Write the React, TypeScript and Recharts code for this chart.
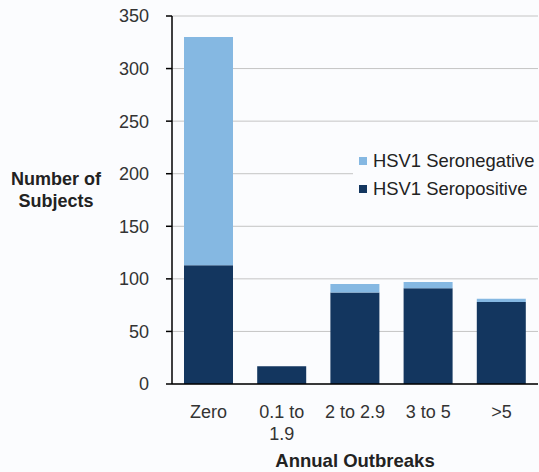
import React from "react";
import { BarChart, Bar, XAxis, YAxis, CartesianGrid, Legend, Label } from "recharts";

const categories = ["Zero", "0.1 to 1.9", "2 to 2.9", "3 to 5", ">5"];
const seropositive = [113, 17, 87, 91, 78];
const seronegative = [217, 0, 8, 6, 3];
const yTicks = [0, 50, 100, 150, 200, 250, 300, 350];

const DARK = "#13365f";
const LIGHT = "#85b8e2";
const FONT = "'Liberation Sans', Arial, Helvetica, sans-serif";
const MAX_CHARS = 8;

const data = categories.map((c, i) => ({
  name: c,
  pos: seropositive[i],
  neg: seronegative[i],
}));

function wrapLabel(s: string): string[] {
  const words = s.split(" ");
  const lines: string[] = [];
  let cur = "";
  for (const w of words) {
    const next = cur ? cur + " " + w : w;
    if (next.length > MAX_CHARS && cur) {
      lines.push(cur);
      cur = w;
    } else {
      cur = next;
    }
  }
  if (cur) lines.push(cur);
  return lines;
}

const XTick = (props: any) => {
  const { x, y, payload } = props;
  const lines = wrapLabel(String(payload.value));
  return (
    <text x={x} y={y + 32} textAnchor="middle" fontSize={18} fill="#333" fontFamily={FONT}>
      {lines.map((l, i) => (
        <tspan key={i} x={x} dy={i === 0 ? 0 : 22}>
          {l}
        </tspan>
      ))}
    </text>
  );
};

const YLabel = () => {
  return (
    <text x={56} y={185} textAnchor="middle" fontSize={18} fontWeight="bold" fill="#222" fontFamily={FONT}>
      <tspan x={56}>Number of</tspan>
      <tspan x={56} dy={22}>Subjects</tspan>
    </text>
  );
};

const XLabel = (props: any) => {
  const vb = props.viewBox || {};
  return (
    <text x={vb.x + vb.width / 2} y={vb.y + 83} textAnchor="middle" fontSize={18.5} fontWeight="bold" fill="#222" fontFamily={FONT}>
      Annual Outbreaks
    </text>
  );
};

const LegendContent = () => {
  const items = [
    { label: "HSV1 Seronegative", color: LIGHT },
    { label: "HSV1 Seropositive", color: DARK },
  ];
  return (
    <div style={{ background: "#fbfcfe", paddingLeft: 6 }}>
      {items.map((it) => (
        <div key={it.label} style={{ display: "flex", alignItems: "center", height: 28 }}>
          <span style={{ display: "inline-block", width: 8, height: 8, background: it.color, marginRight: 6 }} />
          <span style={{ fontSize: 18.4, color: "#222", fontFamily: FONT, whiteSpace: "nowrap" }}>{it.label}</span>
        </div>
      ))}
    </div>
  );
};

export default function App() {
  return (
    <div style={{ position: "absolute", left: 0, top: 0, width: 539, height: 472, background: "#fbfcfe" }}>
      <BarChart
        width={539}
        height={472}
        data={data}
        margin={{ top: 16, right: 1, left: 0, bottom: 28 }}
      >
        <CartesianGrid horizontal vertical={false} stroke="#c4c4c4" strokeWidth={1} />
        <XAxis
          dataKey="name"
          height={60}
          tickLine={false}
          tickSize={0}
          axisLine={{ stroke: "#000", strokeWidth: 1.5 }}
          tick={<XTick />}
          interval={0}
        >
          <Label content={<XLabel />} />
        </XAxis>
        <YAxis
          width={172}
          domain={[0, 350]}
          ticks={yTicks}
          interval={0}
          tickSize={6}
          tickMargin={17}
          tickLine={{ stroke: "#000", strokeWidth: 1.5 }}
          axisLine={{ stroke: "#000", strokeWidth: 1.5 }}
          tick={{ fontSize: 18, fill: "#333", fontFamily: FONT }}
        >
          <Label content={<YLabel />} />
        </YAxis>
        <Legend
          layout="vertical"
          align="center"
          verticalAlign="middle"
          content={<LegendContent />}
          wrapperStyle={{ position: "absolute", top: 147, left: 353, width: 186 }}
        />
        <Bar dataKey="pos" stackId="a" fill={DARK} barSize={49} isAnimationActive={false} name="HSV1 Seropositive" />
        <Bar dataKey="neg" stackId="a" fill={LIGHT} barSize={49} isAnimationActive={false} name="HSV1 Seronegative" />
      </BarChart>
    </div>
  );
}
